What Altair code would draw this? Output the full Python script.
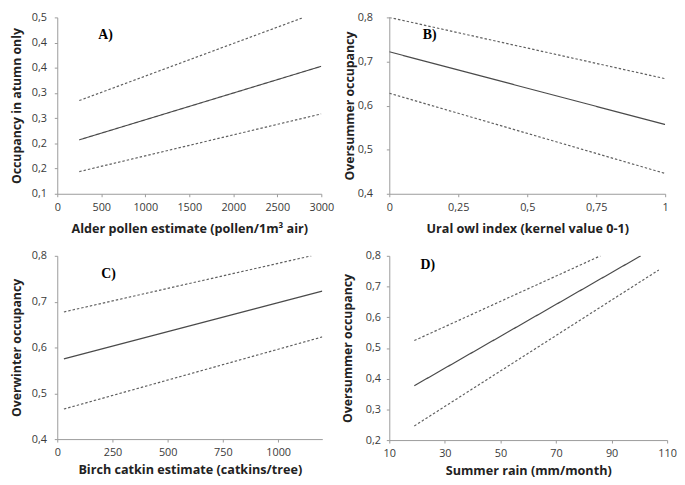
import altair as alt
import pandas as pd

# ---- data ----
# Panel A: occupancy in autumn vs alder pollen
A_fit_x = [250, 3000]; A_fit_y = [0.207, 0.353]
A_up_x = [250, 2800];  A_up_y = [0.285, 0.45]
A_lo_x = [250, 3000];  A_lo_y = [0.144, 0.2585]
A_yticks = [0.10, 0.15, 0.20, 0.25, 0.30, 0.35, 0.40, 0.45]
A_ylabels = ["0,1", "0,2", "0,2", "0,3", "0,3", "0,4", "0,4", "0,5"]
A_xticks = [0, 500, 1000, 1500, 2000, 2500, 3000]

# Panel B: oversummer occupancy vs Ural owl index
B_fit_x = [0, 1]; B_fit_y = [0.722, 0.557]
B_up_x = [0, 1];  B_up_y = [0.80, 0.661]
B_lo_x = [0, 1];  B_lo_y = [0.628, 0.446]
B_yticks = [0.4, 0.5, 0.6, 0.7, 0.8]
B_xticks = [0, 0.25, 0.5, 0.75, 1]

# Panel C: overwinter occupancy vs birch catkins
C_fit_x = [30, 1200]; C_fit_y = [0.575, 0.723]
C_up_x = [30, 1150];  C_up_y = [0.6775, 0.80]
C_lo_x = [30, 1200];  C_lo_y = [0.4656, 0.623]
C_yticks = [0.4, 0.5, 0.6, 0.7, 0.8]
C_xticks = [0, 250, 500, 750, 1000]

# Panel D: oversummer occupancy vs summer rain
D_fit_x = [19, 100.5]; D_fit_y = [0.377, 0.80]
D_up_x = [19, 86];     D_up_y = [0.524, 0.80]
D_lo_x = [19, 107];    D_lo_y = [0.246, 0.754]
D_yticks = [0.2, 0.3, 0.4, 0.5, 0.6, 0.7, 0.8]
D_xticks = [10, 30, 50, 70, 90, 110]

SERIES = ["fit", "upper", "lower"]


def frame(fx, fy, ux, uy, lx, ly):
    rows = []
    for name, xs, ys in (("fit", fx, fy), ("upper", ux, uy), ("lower", lx, ly)):
        for x, y in zip(xs, ys):
            rows.append({"x": x, "y": y, "series": name})
    return pd.DataFrame(rows)


COMMA = "replace(format(datum.value, '~g'), '.', ',')"
COMMA1 = "replace(format(datum.value, '.1f'), '.', ',')"


def panel(df, xdom, xticks, xlabel_expr, ydom, yticks, ylabel_expr,
          xtitle, ytitle, w, h, tag, tx, ty,
          y_label_pad, y_title_pad, x_title_pad):
    lines = alt.Chart(df).mark_line(strokeWidth=1.2, clip=True).encode(
        x=alt.X("x:Q", scale=alt.Scale(domain=xdom, nice=False, zero=False),
                axis=alt.Axis(values=xticks, labelExpr=xlabel_expr, title=xtitle,
                              titlePadding=x_title_pad)),
        y=alt.Y("y:Q", scale=alt.Scale(domain=ydom, nice=False, zero=False),
                axis=alt.Axis(values=yticks, labelExpr=ylabel_expr, title=ytitle,
                              labelPadding=y_label_pad, titlePadding=y_title_pad)),
        detail="series:N",
        color=alt.Color("series:N", legend=None,
                        scale=alt.Scale(domain=SERIES, range=["#4a4a4a", "#606060", "#606060"])),
        strokeDash=alt.StrokeDash("series:N", legend=None,
                                  scale=alt.Scale(domain=SERIES, range=[[1, 0], [2.5, 2], [2.5, 2]])),
    )
    label = alt.Chart(pd.DataFrame({"t": [tag]})).mark_text(
        font="Liberation Serif", fontWeight="bold", fontSize=14, color="#000000",
        align="center", baseline="middle"
    ).encode(text="t:N", x=alt.value(tx), y=alt.value(ty))
    return alt.layer(lines, label).properties(width=w, height=h)


a_expr = "[" + ",".join("'%s'" % s for s in A_ylabels) + "][round((datum.value - 0.1) / 0.05)]"

pA = panel(frame(A_fit_x, A_fit_y, A_up_x, A_up_y, A_lo_x, A_lo_y),
           [0, 3000], A_xticks, "format(datum.value, 'd')",
           [0.1, 0.45], A_yticks, a_expr,
           "Alder pollen estimate (pollen/1m³ air)", "Occupancy in atumn only",
           268, 179, "A)", 49, 18, 8, 8, 10)
pB = panel(frame(B_fit_x, B_fit_y, B_up_x, B_up_y, B_lo_x, B_lo_y),
           [0, 1], B_xticks, COMMA,
           [0.4, 0.8], B_yticks, COMMA1,
           "Ural owl index (kernel value 0-1)", "Oversummer occupancy",
           280, 179, "B)", 41, 18, 14, 1, 10)
pC = panel(frame(C_fit_x, C_fit_y, C_up_x, C_up_y, C_lo_x, C_lo_y),
           [0, 1200], C_xticks, "format(datum.value, 'd')",
           [0.4, 0.8], C_yticks, COMMA1,
           "Birch catkin estimate (catkins/tree)", "Overwinter occupancy",
           269, 186, "C)", 52, 18, 8, 8, 6)
pD = panel(frame(D_fit_x, D_fit_y, D_up_x, D_up_y, D_lo_x, D_lo_y),
           [10, 110], D_xticks, "format(datum.value, 'd')",
           [0.2, 0.8], D_yticks, COMMA1,
           "Summer rain (mm/month)", "Oversummer occupancy",
           282, 187, "D)", 39, 9, 6, 11, 6)

chart = alt.concat(
    pA, pB, pC, pD, columns=2,
    spacing={"row": 15, "column": 7},
).properties(
    padding={"left": 2, "top": 0, "right": 0, "bottom": 0},
    background="#ffffff",
).configure_view(stroke=None).configure_axis(
    grid=False,
    domainColor="#9a9a9a",
    tickColor="#9a9a9a",
    tickSize=3,
    labelFlush=False,
    labelFont="Open Sans",
    labelFontSize=11,
    labelColor="#3a3a3a",
    titleFont="Open Sans",
    titleFontWeight="bold",
    titleColor="#222222",
).configure_axisX(
    labelPadding=5,
    titleFontSize=12.8,
).configure_axisY(
    titleFontSize=12.5,
)

chart.save("out.html", embed_options={"renderer": "svg", "actions": False})
